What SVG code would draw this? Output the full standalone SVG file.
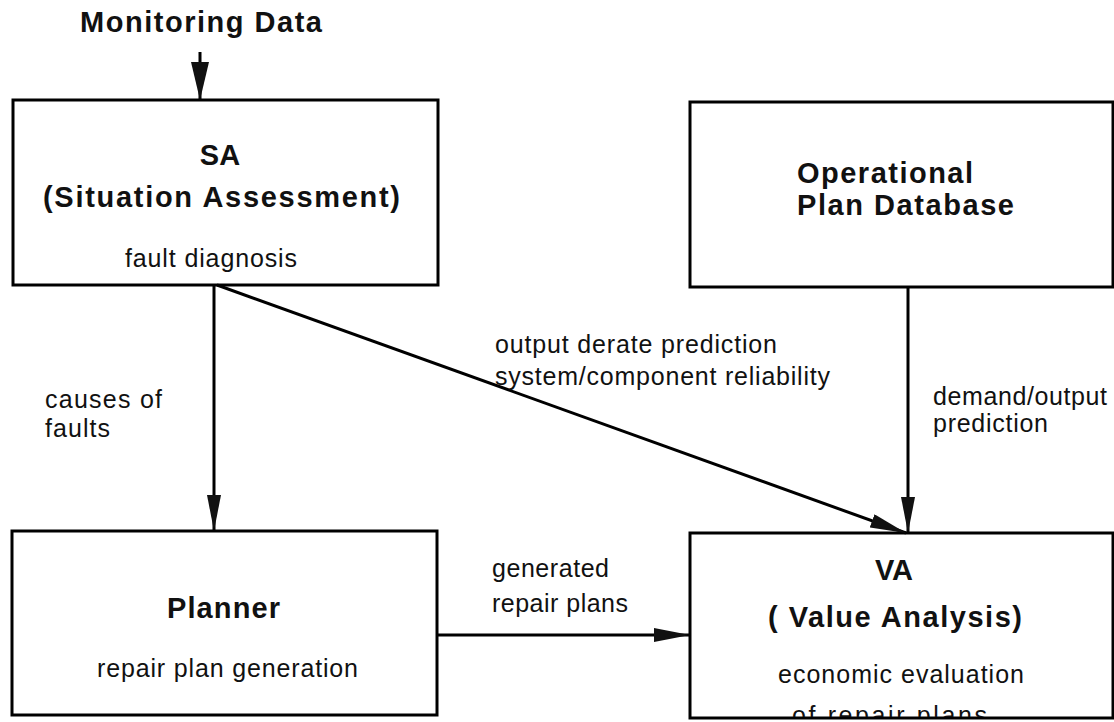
<svg xmlns="http://www.w3.org/2000/svg" width="1114" height="722" viewBox="0 0 1114 722">
  <style>
    .box { fill: #ffffff; stroke: #000000; stroke-width: 3; }
    .title { font-family: "Liberation Sans", Arial, sans-serif; font-weight: bold; font-size: 29px; fill: #111111; }
    .label { font-family: "Liberation Sans", Arial, sans-serif; font-size: 25px; fill: #111111; }
    .link { fill: none; stroke: #000000; stroke-width: 3; }
  </style>
  <defs>
    <!-- long, narrow filled arrowheads -->
    <marker id="head" viewBox="0 0 36 14" refX="36" refY="7" markerWidth="36" markerHeight="14" markerUnits="userSpaceOnUse" orient="auto">
      <path d="M0,0 L36,7 L0,14 z" fill="#111111"/>
    </marker>
    <marker id="headWide" viewBox="0 0 38 18" refX="38" refY="9" markerWidth="38" markerHeight="18" markerUnits="userSpaceOnUse" orient="auto">
      <path d="M0,0 L38,9 L0,18 z" fill="#111111"/>
    </marker>
    <clipPath id="vaClip">
      <rect x="690" y="533" width="424" height="184"/>
    </clipPath>
  </defs>
  <rect width="1114" height="722" fill="#ffffff"/>

  <!-- external input -->
  <g id="monitoring-data">
    <text class="title" x="80" y="32" textLength="242" lengthAdjust="spacing">Monitoring Data</text>
  </g>

  <!-- situation assessment -->
  <g id="sa">
    <rect class="box" x="13" y="100" width="425" height="185"/>
    <text class="title" x="220" y="165" text-anchor="middle">SA</text>
    <text class="title" x="43" y="207" textLength="357" lengthAdjust="spacing">(Situation Assessment)</text>
    <text class="label" x="125" y="267" textLength="172" lengthAdjust="spacing">fault diagnosis</text>
  </g>

  <!-- operational plan database -->
  <g id="opdb">
    <rect class="box" x="690" y="102" width="423" height="185"/>
    <text class="title" x="797" y="183" textLength="176" lengthAdjust="spacing">Operational</text>
    <text class="title" x="797" y="215" textLength="217" lengthAdjust="spacing">Plan Database</text>
  </g>

  <!-- planner -->
  <g id="planner">
    <rect class="box" x="12" y="531" width="425" height="184"/>
    <text class="title" x="167" y="618" textLength="113" lengthAdjust="spacing">Planner</text>
    <text class="label" x="97" y="677" textLength="261" lengthAdjust="spacing">repair plan generation</text>
  </g>

  <!-- value analysis -->
  <g id="va">
    <rect class="box" x="690" y="533" width="423" height="185"/>
    <text class="title" x="894" y="580" text-anchor="middle">VA</text>
    <text class="title" x="768" y="627" textLength="254" lengthAdjust="spacing">( Value Analysis)</text>
    <text class="label" x="778" y="683" textLength="246" lengthAdjust="spacing">economic evaluation</text>
    <text class="label" x="792" y="724" textLength="195" lengthAdjust="spacing" clip-path="url(#vaClip)">of repair plans</text>
  </g>

  <!-- connectors -->
  <g id="connectors">
    <line class="link" x1="200" y1="52" x2="200" y2="100" marker-end="url(#headWide)"/>
    <line class="link" x1="214" y1="285" x2="214" y2="531" marker-end="url(#head)"/>
    <line class="link" x1="217" y1="285" x2="906" y2="533" marker-end="url(#head)"/>
    <line class="link" x1="908" y1="287" x2="908" y2="533" marker-end="url(#head)"/>
    <line class="link" x1="437" y1="635" x2="690" y2="635" marker-end="url(#head)"/>

    <text class="label" x="45" y="408" textLength="117" lengthAdjust="spacing">causes of</text>
    <text class="label" x="45" y="437" textLength="65" lengthAdjust="spacing">faults</text>
    <text class="label" x="495" y="353" textLength="282" lengthAdjust="spacing">output derate prediction</text>
    <text class="label" x="495" y="385" textLength="335" lengthAdjust="spacing">system/component reliability</text>
    <text class="label" x="933" y="405" textLength="174" lengthAdjust="spacing">demand/output</text>
    <text class="label" x="933" y="432" textLength="115" lengthAdjust="spacing">prediction</text>
    <text class="label" x="492" y="577" textLength="117" lengthAdjust="spacing">generated</text>
    <text class="label" x="492" y="612" textLength="136" lengthAdjust="spacing">repair plans</text>
  </g>
</svg>
